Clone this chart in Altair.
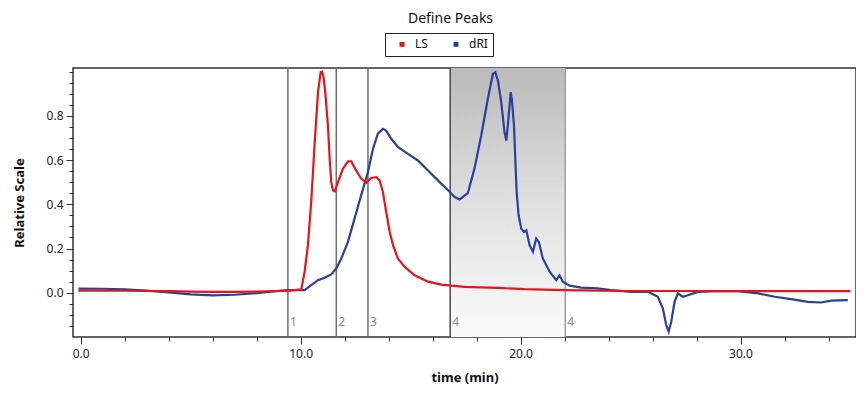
import altair as alt
import pandas as pd

# ---- data ----
ls_t = [-0.1, 1.0, 2.0, 3.0, 4.0, 5.0, 6.0, 7.0, 8.0, 9.0, 9.5, 10.03, 10.18, 10.33, 10.48,
        10.64, 10.79, 10.91, 10.97, 11.04, 11.12, 11.24, 11.32, 11.39, 11.47, 11.55, 11.70,
        11.92, 12.15, 12.30, 12.48, 12.75, 12.98, 13.21, 13.44, 13.59, 13.74, 13.89, 14.05,
        14.2, 14.42, 14.73, 15.18, 15.79, 16.39, 16.85, 17.45, 18.2, 18.97, 20.18, 22.0,
        23.5, 25.0, 27.0, 29.0, 31.0, 33.0, 35.0]
ls_v = [0.010, 0.010, 0.009, 0.008, 0.007, 0.005, 0.004, 0.004, 0.005, 0.008, 0.010, 0.015,
        0.095, 0.215, 0.41, 0.68, 0.907, 0.997, 1.0, 0.975, 0.907, 0.756, 0.606, 0.50, 0.463,
        0.458, 0.50, 0.56, 0.594, 0.594, 0.56, 0.516, 0.497, 0.519, 0.523, 0.508, 0.456,
        0.365, 0.275, 0.215, 0.155, 0.117, 0.079, 0.050, 0.037, 0.032, 0.027, 0.024, 0.022,
        0.016, 0.012, 0.010, 0.008, 0.008, 0.007, 0.007, 0.007, 0.007]

dri_t = [-0.1, 1.0, 2.0, 3.0, 4.0, 5.0, 6.0, 7.0, 8.0, 8.52, 9.42, 10.18, 10.48, 10.79, 11.09,
         11.39, 11.62, 11.85, 12.15, 12.45, 12.75, 13.06, 13.29, 13.51, 13.74, 13.89, 14.12,
         14.42, 14.88, 15.33, 15.79, 16.24, 16.7, 17.0, 17.23, 17.6, 17.9, 18.21, 18.51,
         18.74, 18.85, 18.97, 19.12, 19.27, 19.35, 19.42, 19.55, 19.6, 19.7, 19.76, 19.82,
         19.91, 20.03, 20.15, 20.26, 20.41, 20.56, 20.71, 20.83, 21.01, 21.32, 21.62, 21.77,
         21.92, 22.23, 22.75, 23.5, 24.12, 25.03, 25.79, 26.24, 26.47, 26.62, 26.73, 26.85,
         27.0, 27.15, 27.38, 27.6, 28.06, 28.82, 29.88, 30.8, 31.55, 32.3, 33.06, 33.66,
         34.12, 34.88]
dri_v = [0.019, 0.018, 0.015, 0.010, 0.002, -0.007, -0.012, -0.009, -0.002, 0.004, 0.012,
         0.012, 0.034, 0.057, 0.068, 0.083, 0.11, 0.155, 0.23, 0.335, 0.44, 0.546, 0.651,
         0.719, 0.741, 0.733, 0.696, 0.659, 0.628, 0.598, 0.553, 0.508, 0.463, 0.433, 0.422,
         0.45, 0.56, 0.711, 0.876, 0.989, 0.997, 0.959, 0.862, 0.726, 0.688, 0.756, 0.907,
         0.876, 0.756, 0.606, 0.456, 0.35, 0.29, 0.275, 0.282, 0.215, 0.185, 0.245, 0.23,
         0.155, 0.095, 0.057, 0.079, 0.05, 0.032, 0.023, 0.02, 0.012, 0.004, 0.004, -0.018,
         -0.071, -0.146, -0.176, -0.131, -0.041, -0.003, -0.018, -0.011, 0.004, 0.007, 0.007,
         -0.003, -0.018, -0.029, -0.041, -0.044, -0.036, -0.033]

series_names = ["LS", "dRI"]
marker_t = [9.42, 11.62, 13.06, 16.80, 22.03]
marker_labels = ["1", "2", "3", "4", "4"]

x_ticks = [float(v) for v in range(0, 35, 2)]
y_ticks = [round(-0.15 + 0.05 * i, 2) for i in range(24)]

# ---- tables ----
curves = pd.concat([
    pd.DataFrame({"t": dri_t, "v": dri_v, "series": series_names[1]}),
    pd.DataFrame({"t": ls_t, "v": ls_v, "series": series_names[0]}),
], ignore_index=True)
markers = pd.DataFrame({"t": marker_t, "label": marker_labels})
shade = pd.DataFrame({"t": [marker_t[3]], "t2": [marker_t[4]]})

FONT = "Noto Sans"
x_scale = alt.Scale(domain=[-0.35, 35.25], nice=False, zero=False)
y_scale = alt.Scale(domain=[-0.2, 1.016], nice=False, zero=False)

x_axis = alt.Axis(
    values=x_ticks, title="time (min)", domain=False, grid=False,
    labelExpr="datum.value % 10 == 0 ? format(datum.value, '.1f') : ''",
    tickSize={"condition": {"test": "datum.value % 10 == 0", "value": 7}, "value": 4},
    tickColor="#333", labelColor="#222", labelFontSize=12, labelFont=FONT,
    labelPadding=4, titleFont=FONT, titleFontSize=13, titleFontWeight="bold",
    titlePadding=12, titleColor="#111", labelOverlap=False,
)
y_axis = alt.Axis(
    values=y_ticks, title="Relative Scale", domain=False, grid=False,
    labelExpr="(abs(datum.value*5 - round(datum.value*5)) < 0.001 && datum.value > -0.01 && datum.value < 0.81) ? format(datum.value, '.1f') : ''",
    tickSize={"condition": {"test": "abs(datum.value*5 - round(datum.value*5)) < 0.001 && datum.value > -0.01 && datum.value < 0.81", "value": 7}, "value": 4},
    tickColor="#333", labelColor="#222", labelFontSize=12, labelFont=FONT,
    labelPadding=3, titleFont=FONT, titleFontSize=13, titleFontWeight="bold",
    titlePadding=20, titleColor="#111", labelOverlap=False,
)

shade_layer = alt.Chart(shade).mark_rect(
    color=alt.LinearGradient(
        gradient="linear",
        stops=[alt.GradientStop(color="#bababa", offset=0),
               alt.GradientStop(color="#e0e0e0", offset=0.5),
               alt.GradientStop(color="#fbfbfb", offset=1)],
        x1=0, x2=0, y1=0, y2=1,
    )
).encode(
    x=alt.X("t:Q", scale=x_scale, axis=x_axis),
    x2="t2:Q",
)

rule_layer = alt.Chart(markers).mark_rule(strokeWidth=1.5).encode(
    x=alt.X("t:Q", scale=x_scale, axis=x_axis),
    color=alt.when(alt.datum.t == marker_t[3]).then(alt.value("#4a4a4a"))
             .when(alt.datum.t == marker_t[4]).then(alt.value("#a0a0a0"))
             .otherwise(alt.value("#707070")),
)

label_layer = alt.Chart(markers).mark_text(
    align="left", baseline="middle", dx=2, fontSize=12, font=FONT, color="#8a8a8a"
).encode(
    x=alt.X("t:Q", scale=x_scale, axis=x_axis),
    y=alt.value(254),
    text="label:N",
)

line_layer = alt.Chart(curves).mark_line(strokeWidth=2.2).encode(
    x=alt.X("t:Q", scale=x_scale, axis=x_axis),
    y=alt.Y("v:Q", scale=y_scale, axis=y_axis),
    color=alt.Color(
        "series:N",
        scale=alt.Scale(domain=series_names, range=["#e8141c", "#2b3f9c"]),
        legend=alt.Legend(
            orient="none", legendX=312, legendY=-35, direction="horizontal",
            title=None, strokeColor="#222", padding=5, fillColor="white",
            symbolType="square", symbolSize=6, symbolStrokeWidth=2.5,
            symbolOffset=6, labelOffset=7,
            labelFont=FONT, labelFontSize=12, labelColor="#111", columnPadding=16,
        ),
    ),
    detail="series:N",
)

chart = alt.layer(shade_layer, rule_layer, label_layer, line_layer).properties(
    width=783, height=269,
    title=alt.TitleParams("Define Peaks", font=FONT, fontSize=14, fontWeight="normal",
                          color="#111", anchor="middle", dx=-14, offset=7),
    padding={"left": 5, "top": 3, "right": 0, "bottom": 5},
).configure_view(stroke="#333", strokeWidth=1.5)

chart.save("out.html", embed_options={"renderer": "svg", "actions": False})
